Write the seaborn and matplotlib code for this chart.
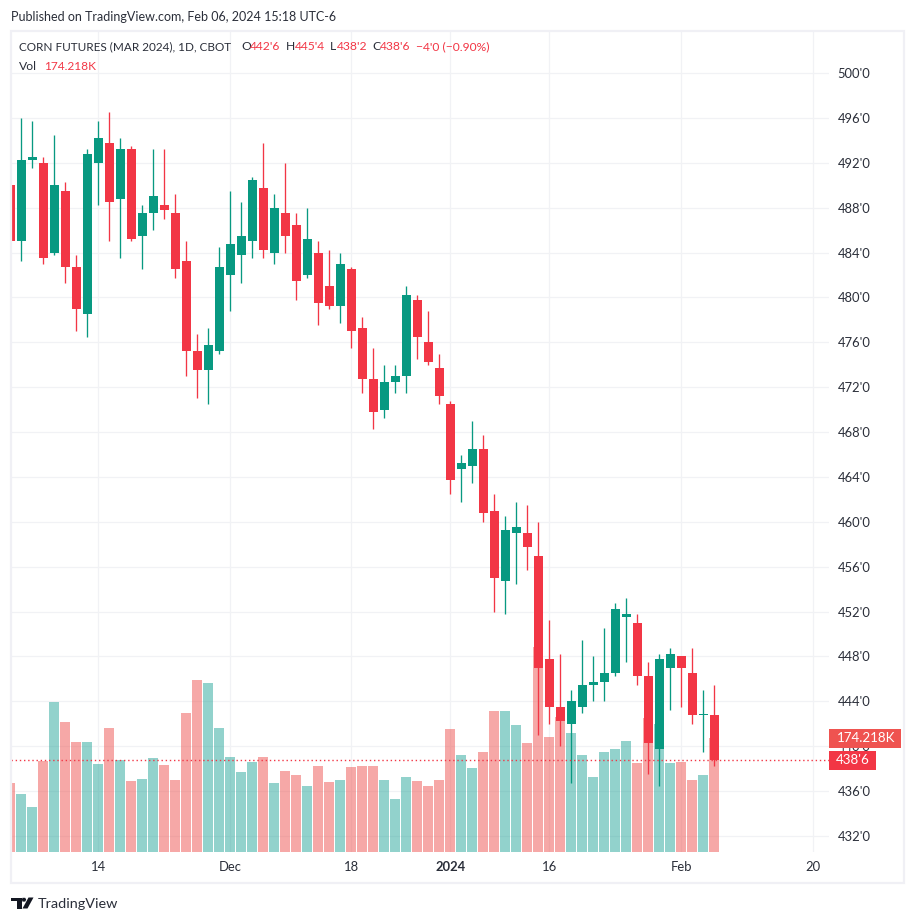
import matplotlib
matplotlib.use("Agg")
import matplotlib.pyplot as plt
from matplotlib.patches import Rectangle, Polygon
import numpy as np
import pandas as pd
import seaborn as sns

opens = [490,485,492.25,492,484,489.5,482.75,478.5,492,493.75,488.75,493.25,485.5,487.5,488.25,487.5,
         483.25,475.25,473.5,475.25,482,483.75,485,489.75,484,487.5,486.5,482,484,481,479.25,482.5,
         477.25,472.75,470,472.5,473,479.75,476,473.75,470.5,464.75,465,466.5,461,454.75,459,459,457,
         447.75,443.5,442,443.5,445.5,445.75,446.5,451.5,451,446.25,439.75,447,448,446.5,442.75,442.75]
highs = [491,496,495.75,492.5,494.5,490.25,483.75,493.25,495.75,496.5,494.25,493.5,488.25,493.25,493.25,489.25,
         485,476.75,477.25,484.5,489.5,488.5,490.75,493.75,489.25,492,487.5,488,485,484.25,484,482.75,
         478.25,475.5,474,474,481,480.25,478.75,475,470.75,466,469,467.75,462.5,460.5,461.75,461.5,460,
         451.25,448.25,445,449.5,448,450.5,452.75,453.25,451.75,447.5,448.25,448.75,448,448.75,445,445.5]
lows = [484,483.25,491.5,483,483.75,481.25,477,476.5,488.25,485,483.5,485,482.5,486,487,481.75,
        473,471,470.5,475,478.75,481.25,483.5,483.5,483,484,479.75,481.75,477.5,479,477.75,475.5,
        471.5,468.25,469.25,471.5,471.5,474.5,474,470.5,462.5,461.75,463.5,460,452,451.75,454.5,455.75,441,
        442,440,436.75,443,444,444,446.25,447.5,445.5,437.5,436.5,443.25,443.5,442,439.5,438.25]
closes = [485,492.25,492.5,483.5,490,482.75,479,492.75,494.25,488.5,493.25,485.25,487.5,489,487.75,482.5,
          475.25,473.5,475.75,482.75,484.75,485.5,490.5,484.25,488,485.5,481.5,485.25,479.5,479.25,483,477,
          472.75,469.75,472.5,473,480.25,476.5,474.25,471.25,463.75,465.25,466.5,460.75,455,459.25,459.5,457.75,447,
          443.5,442.25,444,445.5,445.75,446.5,452.25,451.75,446.25,440.25,447.75,448.25,447,442.75,442.75,438.75]
volumes = [105.4,88.6,68.8,139.0,229.2,198.6,168.1,168.1,134.5,189.5,140.6,108.5,111.5,143.6,132.9,110.0,
           212.4,262.8,258.2,189.5,145.2,122.2,137.5,145.2,105.4,123.8,117.7,100.8,131.4,107.0,110.0,129.9,
           131.4,131.4,110.0,81.0,114.6,108.5,100.8,110.0,187.9,148.2,128.4,152.8,215.4,215.4,194.1,166.6,313.2,
           175.7,206.3,181.8,148.2,114.6,152.8,157.4,169.6,136.0,204.8,195.6,136.0,137.5,110.0,117.7,174.218]
directions = ["down","up","up","down","up","down","down","up","up","down","up","down","up","up","down","down",
              "down","down","up","up","up","up","up","down","up","down","down","up","down","down","up","down",
              "down","down","up","up","up","down","down","down","down","up","up","down","down","up","up","down","down",
              "down","down","up","up","up","up","up","up","down","down","up","up","down","down","up","down"]
price_ticks = [432,436,440,444,448,452,456,460,464,468,472,476,480,484,488,492,496,500]
price_labels = ["432'0","436'0","440'0","444'0","448'0","452'0","456'0","460'0","464'0","468'0","472'0",
                "476'0","480'0","484'0","488'0","492'0","496'0","500'0"]
time_ticks = [8,20,31,40,49,61,73]
time_labels = ["14","Dec","18","2024","16","Feb","20"]
last_close = 438.75
last_volume = 174.218

W, H = 916, 923
GREEN, RED = "#089981", "#F23645"
VOL_GREEN, VOL_RED = "#26A69A", "#EF5350"
TEXT = "#2A2E39"
FRAME = "#F0F0F5"
GRID = "#F1F2F5"
FONT = ["Lato", "DejaVu Sans"]

sns.set_theme(style="white")
plt.rcParams["font.family"] = FONT
fig = plt.figure(figsize=(W/100, H/100), dpi=100, facecolor="white")

def fx(x): return x / W
def fy(y): return 1 - y / H

L, R, T, B = 11, 829, 31, 852
pos = [fx(L), fy(B), (R-L)/W, (B-T)/H]
px_per_price = 11.22
x0 = (L - 10.4) / 11
x1 = (R - 10.4) / 11
y0 = 432 - (B - 836) / px_per_price
y1 = 432 + (836 - T) / px_per_price
vol_top = (B - T) * 174.218 / 114

idx = np.arange(len(opens))
o, h, l, c = map(np.array, (opens, highs, lows, closes))
up = c >= o

ax = fig.add_axes(pos, zorder=1, facecolor="white")
ax.set_xlim(x0, x1); ax.set_ylim(y0, y1)
ax.set_yticks(price_ticks); ax.set_yticklabels(price_labels)
ax.set_xticks(time_ticks); ax.set_xticklabels(time_labels)
ax.yaxis.tick_right()
ax.grid(True, color=GRID, linewidth=0.9)
ax.tick_params(axis="y", length=0, pad=6.3, labelsize=9.4, labelcolor=TEXT)
ax.tick_params(axis="x", length=0, pad=6.5, labelsize=9.4, labelcolor=TEXT)
for t, s in zip(ax.get_xticklabels(), time_labels):
    if s == "2024":
        t.set_fontweight("bold")
for s in ax.spines.values():
    s.set_visible(False)

ax_vol = fig.add_axes(pos, zorder=2, facecolor="none")
df = pd.DataFrame({"bar": idx, "volume": volumes, "direction": directions})
sns.barplot(data=df, x="bar", y="volume", hue="direction", native_scale=True, dodge=False,
            palette={"up": VOL_GREEN, "down": VOL_RED}, hue_order=["up", "down"], width=10/11,
            alpha=0.5, saturation=1, linewidth=0, legend=False, ax=ax_vol)
ax_vol.set_xlim(x0, x1); ax_vol.set_ylim(0, vol_top)
ax_vol.set_xlabel(""); ax_vol.set_ylabel("")
ax_vol.set_xticks([]); ax_vol.set_yticks([])
for s in ax_vol.spines.values():
    s.set_visible(False)

ax_c = fig.add_axes(pos, zorder=3, facecolor="none")
cols = np.where(up, GREEN, RED)
ax_c.vlines(idx, l, h, colors=cols, linewidth=0.95)
body_low = np.minimum(o, c)
body_h = np.maximum(np.abs(c - o), 0.1)
ax_c.bar(idx, body_h, bottom=body_low, width=9/11, color=cols, linewidth=0)
ax_c.axhline(last_close, color=RED, linewidth=1.0, linestyle=(0, (1, 2)))
ax_c.set_xlim(x0, x1); ax_c.set_ylim(y0, y1)
ax_c.set_xticks([]); ax_c.set_yticks([])
for s in ax_c.spines.values():
    s.set_visible(False)

fig.add_artist(Rectangle((fx(11), fy(883)), (904-11)/W, (883-30.5)/H, transform=fig.transFigure,
                         fill=False, edgecolor=FRAME, linewidth=1.6, zorder=5))

def txt(x, y, s, color=TEXT, size=8.7, ha="left", **kw):
    return fig.text(fx(x), fy(y), s, color=color, fontsize=size, ha=ha, va="center", zorder=8, **kw)

txt(11, 17, "Published on TradingView.com, Feb 06, 2024 15:18 UTC-6", size=9.0)
txt(19, 47, "CORN FUTURES (MAR 2024), 1D, CBOT", size=8.5)
for x, s, col in [(241, "O", TEXT), (250, "442'6", RED), (286, "H", TEXT), (295, "445'4", RED),
                  (330, "L", TEXT), (337, "438'2", RED), (372, "C", TEXT), (380, "438'6", RED),
                  (416, "\u22124'0 (\u22120.90%)", RED)]:
    txt(x, 47, s, color=col)
txt(19, 66, "Vol")
txt(44, 66, "174.218K", color=RED, size=8.6)

fig.add_artist(Rectangle((fx(829), fy(748)), 72/W, 19/H, transform=fig.transFigure,
                         facecolor=VOL_RED, edgecolor="none", zorder=7))
txt(866, 738.5, "174.218K", color="white", size=9.6, ha="center")
fig.add_artist(Rectangle((fx(829), fy(770)), 47/W, 19/H, transform=fig.transFigure,
                         facecolor=RED, edgecolor="none", zorder=7))
txt(853, 760.5, "438'6", color="white", size=9.6, ha="center")

def pts(lst): return [(fx(a), fy(b)) for a, b in lst]
DARK = "#131722"
fig.add_artist(Polygon(pts([(11, 897.5), (21.7, 897.5), (21.7, 908.5), (16.7, 908.5), (16.7, 901.3), (11, 901.3)]),
                       transform=fig.transFigure, facecolor=DARK, edgecolor="none", zorder=8))
fig.add_artist(Polygon(pts([(28.5, 897.5), (33.5, 897.5), (27.5, 908.5), (22.5, 908.5)]),
                       transform=fig.transFigure, facecolor=DARK, edgecolor="none", zorder=8))
fig.add_artist(Polygon(pts([(22.5, 897.8), (25.2, 897.8), (26.2, 899.6), (25.2, 901.6), (22.5, 901.6), (21.9, 899.6)]),
                       transform=fig.transFigure, facecolor=DARK, edgecolor="none", zorder=8))
txt(38, 904, "TradingView", color="#2A2E39", size=10.4)

fig.savefig("out.png", dpi=100, facecolor="white")
